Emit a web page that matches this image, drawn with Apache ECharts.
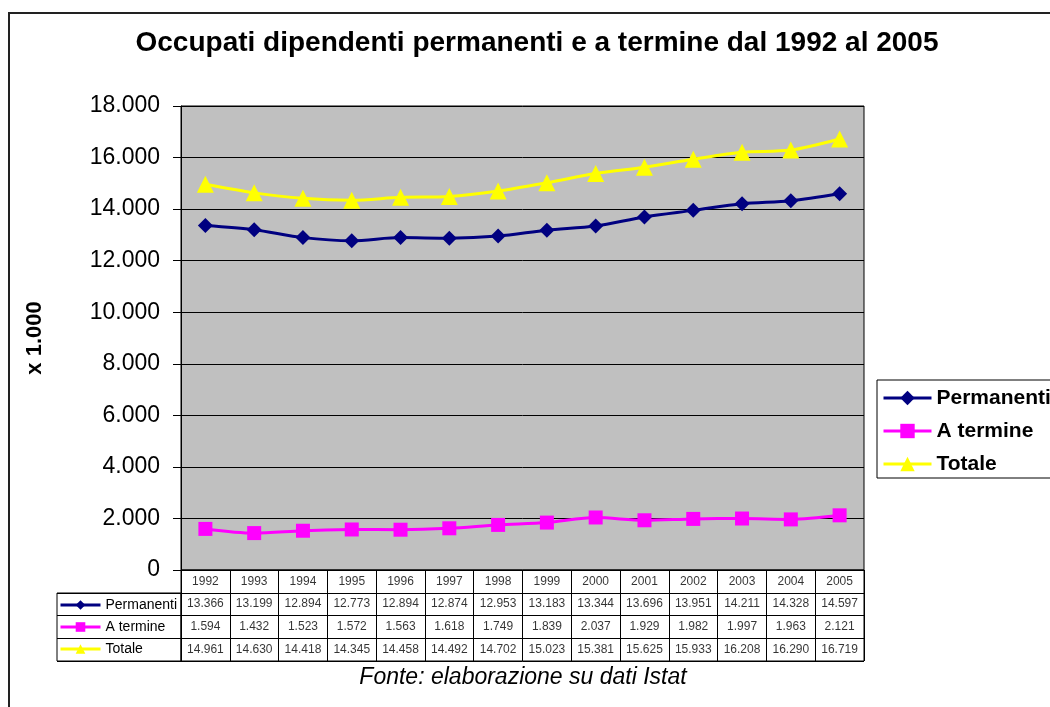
<!DOCTYPE html>
<html>
<head>
<meta charset="utf-8">
<script src="https://cdn.jsdelivr.net/npm/echarts@6/dist/echarts.min.js"></script>
<style>
  html, body { margin: 0; padding: 0; background: #fff; }
  #chart { width: 1050px; height: 707px; }
</style>
</head>
<body>
<div id="chart"></div>
<script>
  const years = ['1992', '1993', '1994', '1995', '1996', '1997', '1998', '1999', '2000', '2001', '2002', '2003', '2004', '2005']
  const permanenti = [13366, 13199, 12894, 12773, 12894, 12874, 12953, 13183, 13344, 13696, 13951, 14211, 14328, 14597]
  const aTermine = [1594, 1432, 1523, 1572, 1563, 1618, 1749, 1839, 2037, 1929, 1982, 1997, 1963, 2121]
  const totale = [14961, 14630, 14418, 14345, 14458, 14492, 14702, 15023, 15381, 15625, 15933, 16208, 16290, 16719]
  const rowNames = ['Permanenti', 'A termine', 'Totale']

  const FONT = 'Arial, "Liberation Sans", sans-serif'

  // 13366 -> 13.366
  function fmt(n) {
    return String(n).replace(/\B(?=(\d{3})+(?!\d))/g, '.')
  }

  // celle della tabella dati sotto il grafico
  const tableCells = []
  years.forEach((y, i) => {
    tableCells.push({ value: [i, 0], label: { formatter: y } })
  })
  ;[permanenti, aTermine, totale].forEach((arr, r) => {
    arr.forEach((v, i) => {
      tableCells.push({ value: [i, r + 1], label: { formatter: fmt(v) } })
    })
  })

  function lineSeries(name, data, color, symbol, size) {
    return {
      name: name,
      type: 'line',
      data: data,
      smooth: 0.3,
      symbol: symbol,
      symbolSize: size,
      color: color,
      lineStyle: { width: 3, color: color },
      itemStyle: { color: color },
      z: 5
    }
  }

  const chart = echarts.init(document.getElementById('chart'))
  chart.setOption({
    animation: false,
    textStyle: { fontFamily: FONT },
    title: [
      {
        text: 'Occupati dipendenti permanenti e a termine dal 1992 al 2005',
        left: 537,
        textAlign: 'center',
        top: 29,
        padding: 0,
        textStyle: { fontSize: 28, fontWeight: 'bold', color: '#000', fontFamily: FONT }
      },
      {
        text: 'Fonte: elaborazione su dati Istat',
        left: 523,
        textAlign: 'center',
        top: 666,
        padding: 0,
        textStyle: { fontSize: 23, fontStyle: 'italic', fontWeight: 'normal', color: '#000', fontFamily: FONT }
      }
    ],
    graphic: [
      {
        type: 'rect',
        shape: { x: 9, y: 13, width: 1100, height: 800 },
        style: { fill: 'none', stroke: '#222', lineWidth: 2 },
        silent: true,
        z: -10
      }
    ],
    legend: [
      {
        data: rowNames,
        orient: 'vertical',
        left: 877,
        top: 380,
        padding: [7, 30, 3, 5],
        itemWidth: 48,
        itemHeight: 18,
        itemGap: 11,
        borderColor: '#000',
        borderWidth: 1,
        backgroundColor: '#fff',
        lineStyle: { width: 3 },
        textStyle: { fontSize: 21, fontWeight: 'bold', color: '#000', lineHeight: 22, fontFamily: FONT }
      },
      {
        data: rowNames,
        orient: 'vertical',
        left: 59,
        top: 598,
        padding: 0,
        itemWidth: 40,
        itemHeight: 12,
        itemGap: 8,
        lineStyle: { width: 3 },
        textStyle: { fontSize: 14, color: '#000', lineHeight: 14, fontFamily: FONT }
      }
    ],
    grid: [
      {
        left: 181, top: 106, width: 683, height: 464,
        show: true, backgroundColor: '#c0c0c0', borderColor: '#000', borderWidth: 1
      },
      {
        left: 181, top: 570, width: 683, height: 91,
        show: true, borderColor: '#000', borderWidth: 1
      },
      {
        left: 57, top: 593, width: 124, height: 68,
        show: true, borderColor: '#000', borderWidth: 1
      }
    ],
    xAxis: [
      {
        gridIndex: 0,
        type: 'category',
        data: years,
        boundaryGap: true,
        axisLine: { lineStyle: { color: '#000' } },
        axisTick: { show: false },
        axisLabel: { show: false },
        splitLine: { show: false }
      },
      {
        gridIndex: 1,
        type: 'category',
        data: years,
        boundaryGap: true,
        axisLine: { show: false },
        axisTick: { show: false },
        axisLabel: { show: false },
        splitLine: { show: true, interval: 0, lineStyle: { color: '#000', width: 1 } }
      },
      {
        gridIndex: 2,
        type: 'value',
        show: false
      }
    ],
    yAxis: [
      {
        gridIndex: 0,
        type: 'value',
        min: 0,
        max: 18000,
        interval: 2000,
        name: 'x 1.000',
        nameLocation: 'middle',
        nameRotate: 90,
        nameGap: 135,
        nameTextStyle: { fontSize: 22, fontWeight: 'bold', color: '#000', fontFamily: FONT },
        axisLine: { show: true, lineStyle: { color: '#000' } },
        axisTick: { show: true, length: 8, lineStyle: { color: '#000' } },
        axisLabel: {
          fontSize: 23,
          color: '#000',
          margin: 21,
          fontFamily: FONT,
          formatter: v => fmt(v)
        },
        splitLine: { show: true, lineStyle: { color: '#000', width: 1 } }
      },
      {
        gridIndex: 1,
        type: 'category',
        data: ['anni'].concat(rowNames),
        inverse: true,
        axisLine: { show: false },
        axisTick: { show: false },
        axisLabel: { show: false },
        splitLine: { show: true, interval: 0, lineStyle: { color: '#000', width: 1 } }
      },
      {
        gridIndex: 2,
        type: 'category',
        data: rowNames,
        inverse: true,
        axisLine: { show: false },
        axisTick: { show: false },
        axisLabel: { show: false },
        splitLine: { show: true, interval: 0, lineStyle: { color: '#000', width: 1 } }
      }
    ],
    series: [
      lineSeries('Permanenti', permanenti, '#000080', 'diamond', 15),
      lineSeries('A termine', aTermine, '#ff00ff', 'rect', 14),
      lineSeries('Totale', totale, '#ffff00', 'triangle', 17),
      {
        name: 'tabella',
        type: 'scatter',
        xAxisIndex: 1,
        yAxisIndex: 1,
        data: tableCells,
        symbolSize: 1,
        itemStyle: { color: 'transparent' },
        silent: true,
        label: {
          show: true,
          position: 'inside',
          fontSize: 12,
          color: '#000',
          fontFamily: FONT
        }
      }
    ]
  })
</script>
</body>
</html>
